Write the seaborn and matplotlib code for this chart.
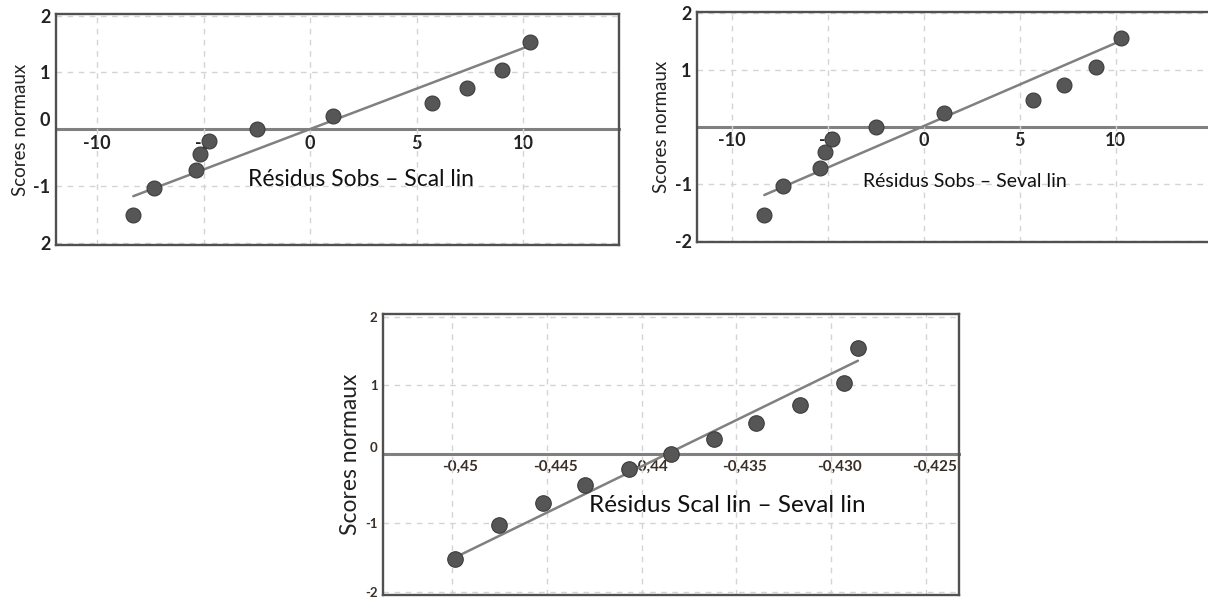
import numpy as np
import pandas as pd
import seaborn as sns
from matplotlib import pyplot as plt
from matplotlib.transforms import ScaledTranslation

# --- data ---
# upper panels: residuals vs normal scores
res_sobs_scal = [-8.31, -7.32, -5.37, -5.18, -4.76, -2.52, 1.08, 5.73, 7.34, 8.99, 10.31]
scores_scal = [-1.52, -1.03, -0.71, -0.44, -0.21, 0.0, 0.23, 0.46, 0.72, 1.04, 1.53]
fit_scal_x = [-8.31, 10.23]
fit_scal_y = [-1.18, 1.46]

res_sobs_seval = [-8.30, -7.31, -5.40, -5.14, -4.76, -2.48, 1.06, 5.71, 7.31, 8.97, 10.28]
scores_seval = [-1.55, -1.04, -0.72, -0.45, -0.22, 0.0, 0.24, 0.47, 0.73, 1.05, 1.56]
fit_seval_x = [-8.30, 10.14]
fit_seval_y = [-1.20, 1.49]

# lower panel
res_scal_seval = [-0.44982, -0.44750, -0.44518, -0.44299, -0.44065, -0.43846,
                  -0.43616, -0.43395, -0.43163, -0.42931, -0.42859]
scores_scal_seval = [-1.53, -1.03, -0.71, -0.45, -0.21, 0.0, 0.22, 0.46, 0.72, 1.04, 1.54]
fit_ss_x = [-0.44974, -0.42859]
fit_ss_y = [-1.49, 1.36]

xticks_top = [-10, -5, 0, 5, 10]
xlabels_top = ["-10", "-5", "0", "5", "10"]
yticks_tl = [-2, -1, 0, 1, 2]
ylabels_tl = ["2", "-1", "0", "1", "2"]
yticks_tr = [-2, -1, 0, 1, 2]
ylabels_tr = ["-2", "-1", "", "1", "2"]
xticks_bot = [-0.45, -0.445, -0.44, -0.435, -0.43, -0.425]
xlabels_bot = ["-0,45", "-0,445", "-0,44", "-0,435", "-0,430", "-0,425"]
yticks_bot = [-2, -1, 0, 1, 2]
ylabels_bot = ["-2", "-1", "0", "1", "2"]

sns.set_theme(style="white")
plt.rcParams['font.family'] = ['Lato', 'DejaVu Sans']

POINT = "#565656"
LINE = "#808080"
FRAME = "#505050"
GRID = "#d4d4d4"

fig = plt.figure(figsize=(12.08, 6.01), dpi=100)


def qq_panel(rect, x, y, fx, fy, xlim, ylim, xticks, xlabels, yticks, ylabels,
             title, title_xy, title_size, ylab_size, xtick_size, ytick_size,
             tick_color, point_size, label_shift=0.0):
    ax = fig.add_axes(rect)
    df = pd.DataFrame({"res": x, "score": y})
    fit = pd.DataFrame({"res": fx, "score": fy})
    sns.lineplot(data=fit, x="res", y="score", color=LINE, lw=1.8, ax=ax, zorder=3)
    sns.scatterplot(data=df, x="res", y="score", s=point_size, color=POINT,
                    edgecolor="#3c3c3c", linewidth=0.8, ax=ax, zorder=4)
    ax.set_xlim(xlim)
    ax.set_ylim(ylim)

    # grid from primary ticks, labels hidden at the bottom
    ax.set_xticks(xticks)
    ax.set_yticks(yticks, ylabels)
    ax.tick_params(axis="x", length=0, labelbottom=False)
    ax.tick_params(axis="y", length=0, pad=4, labelsize=ytick_size,
                   labelcolor=tick_color)
    for lab in ax.get_yticklabels():
        lab.set_fontweight("bold")
        if lab.get_text() == "0":
            lab.set_va("bottom")
    ax.grid(True, color=GRID, lw=1, ls=(0, (4, 4)))
    # the zero line replaces the grid line at y = 0
    for val, tick in zip(yticks, ax.yaxis.get_major_ticks()):
        if val == 0:
            tick.gridline.set_visible(False)
    for sp in ax.spines.values():
        sp.set_color(FRAME)
        sp.set_linewidth(1.7)

    # zero line carries the x tick labels
    sec = ax.secondary_xaxis(0, transform=ax.transData)
    sec.set_xticks(xticks, xlabels)
    sec.tick_params(length=0, pad=4, labelsize=xtick_size, labelcolor=tick_color)
    sec.spines["bottom"].set_color(LINE)
    sec.spines["bottom"].set_linewidth(2.2)
    shift = ScaledTranslation(label_shift / 72, 0, fig.dpi_scale_trans)
    for lab in sec.get_xticklabels():
        lab.set_fontweight("bold")
        lab.set_transform(lab.get_transform() + shift)

    ax.set_xlabel("")
    ax.set_ylabel("Scores normaux", fontsize=ylab_size, color="#222222", labelpad=3)
    ax.text(title_xy[0], title_xy[1], title, ha="center", va="center",
            fontsize=title_size, color="#111111")
    return ax


ax1 = qq_panel([0.04636, 0.59235, 0.46606, 0.38436],
               res_sobs_scal, scores_scal, fit_scal_x, fit_scal_y,
               (-11.94, 14.5), (-2.04, 2.03), xticks_top, xlabels_top,
               yticks_tl, ylabels_tl, "Résidus Sobs – Scal lin", (2.38, -0.88),
               16.5, 13.5, 13, 13, "#222222", 115)

ax2 = qq_panel([0.57724, 0.59784, 0.42773, 0.38270],
               res_sobs_seval, scores_seval, fit_seval_x, fit_seval_y,
               (-11.79, 15.12), (-2.02, 2.02), xticks_top, xlabels_top,
               yticks_tr, ylabels_tr, "Résidus Sobs – Seval lin", (2.15, -0.97),
               14, 13.5, 13, 13, "#222222", 115)
ax2.spines["right"].set_visible(False)

ax3 = qq_panel([0.31705, 0.00998, 0.47682, 0.46755],
               res_scal_seval, scores_scal_seval, fit_ss_x, fit_ss_y,
               (-0.45364, -0.42326), (-2.05, 2.04), xticks_bot, xlabels_bot,
               yticks_bot, ylabels_bot, "Résidus Scal lin – Seval lin", (-0.43546, -0.74),
               17.5, 16.5, 11, 9.5, "#3a2e26", 125, label_shift=6)

fig.savefig("out.png", dpi=100)
